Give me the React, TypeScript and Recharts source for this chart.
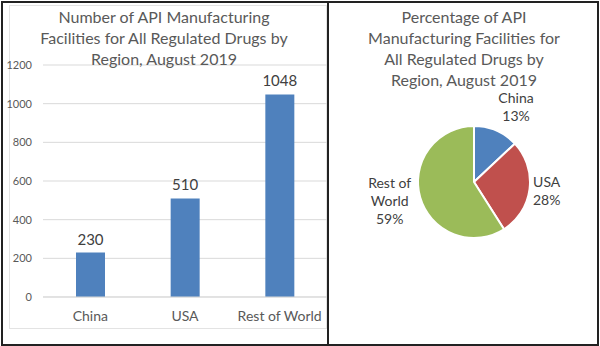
import React from 'react';
import { BarChart, Bar, XAxis, YAxis, CartesianGrid, LabelList, PieChart, Pie, Cell } from 'recharts';

const regions = ['China', 'USA', 'Rest of World'];
const facilities = [230, 510, 1048];
const yTicks = [0, 200, 400, 600, 800, 1000, 1200];
const pieShares = [13, 28, 59];
const pieNames = ['China', 'USA', 'Rest of\nWorld'];
const pieColors = ['#4f81bd', '#c0504d', '#9bbb59'];

const barTitle = ['Number of API Manufacturing', 'Facilities for All Regulated Drugs by', 'Region, August 2019'];
const pieTitle = ['Percentage of API', 'Manufacturing Facilities for', 'All Regulated Drugs by', 'Region, August 2019'];

const barData = regions.map((name, i) => ({ name, value: facilities[i] }));
const pieData = pieNames.map((name, i) => ({ name, value: pieShares[i] }));

const FONT = 'Lato, "Open Sans", sans-serif';
const RAD = Math.PI / 180;

function Title({ lines, left, width }: { lines: string[]; left: number; width: number }) {
    return (
        <div
            style={{
                position: 'absolute',
                left,
                top: 6,
                width,
                textAlign: 'center',
                fontFamily: FONT,
                fontSize: 16,
                lineHeight: '21px',
                color: '#595959',
                whiteSpace: 'nowrap',
            }}
        >
            {lines.map(l => (
                <div key={l}>{l}</div>
            ))}
        </div>
    );
}

// excel-like "best fit": label box edge sits just outside the slice, lines centred in the box
function PieLabel(props: any) {
    const { cx, cy, midAngle, outerRadius, index } = props;
    const c = Math.cos(midAngle * RAD);
    const s = Math.sin(midAngle * RAD);
    const r = outerRadius + 7;
    const px = cx + r * c;
    const py = cy - r * s;
    const lines = [...pieNames[index].split('\n'), `${pieShares[index]}%`];
    const lh = 18;
    const h = lines.length * lh;
    const w = Math.max(...lines.map(l => l.length)) * 6.8;
    let mx = px;
    if (c > 0.2) mx = px + w / 2;
    else if (c < -0.2) mx = px - w / 2;
    let top = py - h / 2;
    if (s > 0.5) top = py - h;
    else if (s < -0.5) top = py;
    return (
        <text x={mx} y={top} textAnchor="middle" dominantBaseline="central" fill="#404040" fontSize={14} fontFamily={FONT}>
            {lines.map((l, i) => (
                <tspan key={i} x={mx} y={top + lh / 2 + i * lh}>
                    {l}
                </tspan>
            ))}
        </text>
    );
}

export default function App() {
    return (
        <div style={{ position: 'absolute', left: 0, top: 0, width: 600, height: 346, background: '#fff', overflow: 'hidden' }}>
            {/* outer frame and divider */}
            <div style={{ position: 'absolute', left: 1, top: 1, width: 594, height: 341, border: '2px solid #222' }} />
            <div style={{ position: 'absolute', left: 327, top: 1, width: 2, height: 343, background: '#222' }} />
            {/* light chart-area border of the bar chart */}
            <div style={{ position: 'absolute', left: 9, top: 5, width: 316, height: 322, border: '1px solid #e3e3e3' }} />

            <div style={{ position: 'absolute', left: 0, top: 0 }}>
                <BarChart width={328} height={346} data={barData} margin={{ top: 65, right: 1, bottom: 0, left: 0 }}>
                    <CartesianGrid vertical={false} stroke="#d9d9d9" />
                    <XAxis
                        dataKey="name"
                        height={49}
                        tickSize={0}
                        tickMargin={14}
                        axisLine={{ stroke: '#d9d9d9' }}
                        tick={{ fill: '#595959', fontSize: 14, fontFamily: FONT }}
                    />
                    <YAxis
                        width={43}
                        domain={[0, 1200]}
                        ticks={yTicks}
                        tickSize={0}
                        tickMargin={11}
                        axisLine={false}
                        tick={{ fill: '#595959', fontSize: 11, fontFamily: FONT }}
                    />
                    <Bar dataKey="value" fill="#4f81bd" barSize={29} isAnimationActive={false}>
                        <LabelList dataKey="value" position="top" offset={8} fill="#404040" fontSize={15} fontFamily={FONT} />
                    </Bar>
                </BarChart>
            </div>
            <Title lines={barTitle} left={0} width={328} />

            <div style={{ position: 'absolute', left: 328, top: 0 }}>
                <PieChart width={272} height={346}>
                    <Pie
                        data={pieData}
                        dataKey="value"
                        cx={141}
                        cy={177}
                        outerRadius={56}
                        startAngle={90}
                        endAngle={-270}
                        stroke="#fff"
                        strokeWidth={2}
                        label={PieLabel}
                        labelLine={false}
                        isAnimationActive={false}
                    >
                        {pieData.map((d, i) => (
                            <Cell key={d.name} fill={pieColors[i]} />
                        ))}
                    </Pie>
                </PieChart>
            </div>
            <Title lines={pieTitle} left={328} width={272} />
        </div>
    );
}
